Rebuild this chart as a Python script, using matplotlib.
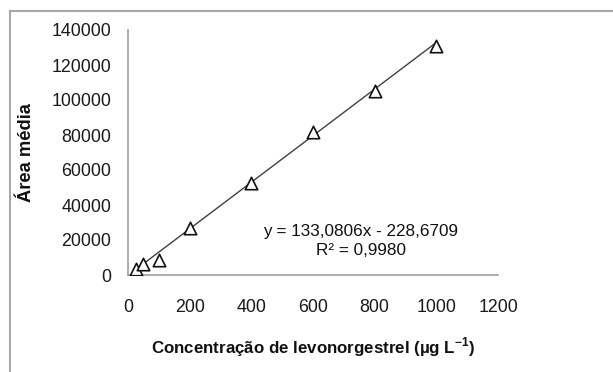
import matplotlib.pyplot as plt
from matplotlib.lines import Line2D
import numpy as np

plt.rcParams['font.family'] = ['Liberation Sans', 'DejaVu Sans']
plt.rcParams['mathtext.fontset'] = 'custom'
plt.rcParams['mathtext.rm'] = 'Liberation Sans'
plt.rcParams['mathtext.bf'] = 'Liberation Sans:bold'

# calibration data: concentration (ug/L) vs mean peak area
concentracao = [25, 50, 100, 200, 400, 600, 800, 1000]
area_media = [3600, 6100, 8500, 27000, 52400, 81900, 105300, 130900]

# linear fit reported for the curve
slope = 133.0806
intercept = -228.6709
r2 = 0.9980

x_ticks = [0, 200, 400, 600, 800, 1000, 1200]
y_ticks = [0, 20000, 40000, 60000, 80000, 100000, 120000, 140000]

fig = plt.figure(figsize=(6.13, 3.72), dpi=100)
ax = fig.add_axes([128 / 613, 1 - 275 / 372, 370 / 613, 245 / 372])

ax.scatter(concentracao, area_media, marker='^', s=80, facecolors='white',
           edgecolors='#111111', linewidths=1.2, zorder=3)

# trend line over the data range
xs = np.array([min(concentracao), max(concentracao)])
ax.plot(xs, slope * xs + intercept, color='#404040', linewidth=1.0, zorder=2)

ax.set_xlim(0, 1200)
ax.set_ylim(0, 140000)
ax.set_xticks(x_ticks)
ax.set_yticks(y_ticks)
ax.tick_params(length=0, labelsize=12.8, colors='#1a1a1a')
ax.tick_params(axis='x', pad=17)
ax.tick_params(axis='y', pad=12)

for side in ['top', 'right']:
    ax.spines[side].set_visible(False)
for side in ['left', 'bottom']:
    ax.spines[side].set_color('#a0a0a0')
    ax.spines[side].set_linewidth(1.2)

ax.set_xlabel(r'Concentração de levonorgestrel (µg L$^{\mathbf{-1}}$)', fontsize=12.2,
              fontweight='bold', labelpad=14, color='#111111')
ax.set_ylabel('Área média', fontsize=13.2, fontweight='bold', labelpad=12,
              color='#111111')

eq = f'y = {slope:.4f}x - {abs(intercept):.4f}'.replace('.', ',')
r2_txt = f'R² = {r2:.4f}'.replace('.', ',')
ax.text(755, 19400, eq + '\n' + r2_txt, ha='center', va='center',
        fontsize=12.3, linespacing=1.3, color='#111111')

# chart frame
fig.add_artist(Line2D([10 / 613, 10 / 613], [0, 1 - 11 / 372],
                      transform=fig.transFigure, color='#a8a8a8', linewidth=1.5))
fig.add_artist(Line2D([10 / 613, 1], [1 - 11 / 372, 1 - 11 / 372],
                      transform=fig.transFigure, color='#a8a8a8', linewidth=1.5))

fig.savefig('out.png', dpi=100)
